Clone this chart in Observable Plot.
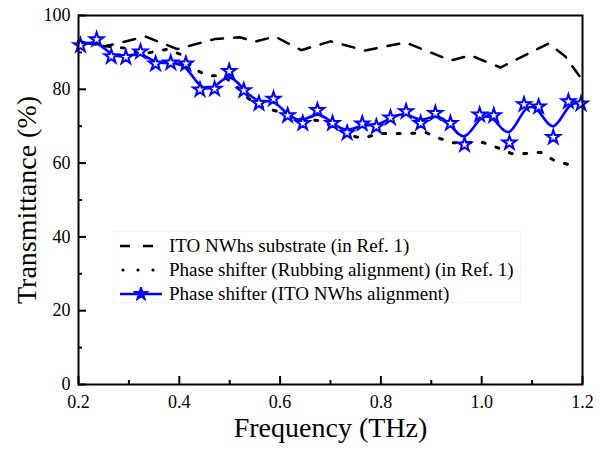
<!DOCTYPE html>
<html><head><meta charset="utf-8">
<script src="https://cdn.jsdelivr.net/npm/d3@7"></script>
<script src="https://cdn.jsdelivr.net/npm/@observablehq/plot@0.6"></script>
<style>
body{margin:0;background:#fff;}
#wrap{position:relative;width:606px;height:450px;font-family:"Liberation Serif","DejaVu Serif",serif;}
#wrap svg text{font-family:"Liberation Serif","DejaVu Serif",serif;}
#legend{position:absolute;left:113px;top:231px;width:408px;height:72px;border:1px solid #f2f2f2;box-sizing:border-box;}
.row{position:absolute;left:0;height:24px;display:flex;align-items:center;font-size:19px;color:#000;white-space:nowrap;font-family:"Liberation Serif","DejaVu Serif",serif;}
.row svg{margin-left:6px;margin-right:5px;}
</style></head><body><div id="wrap"><div id="legend"></div></div>
<script>
// Phase shifter (ITO NWhs alignment)
const freqITO = [0.204,0.236,0.265,0.294,0.323,0.353,0.383,0.413,0.441,0.470,0.499,0.528,0.558,0.587,0.615,0.645,0.674,0.704,0.733,0.763,0.791,0.819,0.850,0.879,0.908,0.938,0.966,0.996,1.024,1.055,1.084,1.113,1.142,1.172,1.197];
const transITO = [91.9,93.5,88.9,88.7,90.2,86.9,87.2,86.9,79.9,80.1,84.9,79.7,76.2,77.4,72.9,70.8,74.3,70.8,68.2,70.7,69.9,72.3,74.0,70.8,73.5,70.8,65.0,73.1,72.9,65.5,75.9,75.3,67.0,76.7,76.1];
// ITO NWhs substrate (in Ref. 1)
const freqSub = [0.200,0.252,0.333,0.396,0.470,0.520,0.550,0.590,0.642,0.700,0.769,0.849,0.938,0.978,1.037,1.133,1.166,1.200];
const transSub = [93.0,91.6,94.3,90.9,93.6,94.1,92.9,94.3,90.6,93.0,90.5,92.7,87.8,89.2,85.9,92.4,88.9,82.4];
// Phase shifter (Rubbing alignment) (in Ref. 1)
const freqRub = [0.200,0.262,0.295,0.323,0.375,0.404,0.428,0.456,0.486,0.512,0.537,0.567,0.595,0.621,0.650,0.680,0.710,0.738,0.765,0.795,0.823,0.853,0.889,0.916,0.944,0.972,1.002,1.031,1.059,1.087,1.117,1.144,1.172];
const transRub = [93.0,91.6,91.1,89.5,90.8,89.4,85.6,83.7,83.7,81.0,77.5,75.1,74.0,72.1,71.8,71.5,69.5,67.5,66.7,68.0,68.0,68.0,68.3,66.7,65.5,65.6,65.6,64.2,62.6,62.6,62.9,60.7,59.6];

const xMajor = [0.2,0.4,0.6,0.8,1.0,1.2];
const xMinor = [0.3,0.5,0.7,0.9,1.1];
const yMajor = [0,20,40,60,80,100];
const yMinor = [10,30,50,70,90];
const seriesNames = ["ITO NWhs substrate (in Ref. 1)","Phase shifter (Rubbing alignment) (in Ref. 1)","Phase shifter (ITO NWhs alignment)"];
const xLabel = "Frequency (THz)";
const yLabel = "Transmittance (%)";

const ito = freqITO.map((f,i)=>({f, t: transITO[i]}));
const sub = freqSub.map((f,i)=>({f, t: transSub[i]}));
const rub = freqRub.map((f,i)=>({f, t: transRub[i]}));

const W=606,H=450,mL=78,mR=24,mT=15,mB=66;
const innerW=W-mL-mR, innerH=H-mT-mB;
const BLUE="#0000ff";
const FONT="Liberation Serif, DejaVu Serif, serif";

const chart = Plot.plot({
  width:W,height:H,marginLeft:mL,marginRight:mR,marginTop:mT,marginBottom:mB,
  style:{fontFamily:FONT,background:"transparent",color:"black"},
  x:{domain:[0.2,1.2]},
  y:{domain:[0,100]},
  marks:[
    Plot.line(sub,{x:"f",y:"t",stroke:"black",strokeWidth:2.5,strokeDasharray:"12,11"}),
    Plot.line(rub,{x:"f",y:"t",stroke:"black",strokeWidth:3,strokeDasharray:"3,11.5"}),
    Plot.line(ito,{x:"f",y:"t",stroke:BLUE,strokeWidth:2.6,curve:"basis"}),
    Plot.dot(ito,{x:"f",y:"t",symbol:"star",r:4.3,stroke:BLUE,strokeWidth:2,fill:"white"}),
    Plot.tickX(xMajor,{x:d=>d,insetTop:innerH-8,stroke:"black",strokeWidth:2}),
    Plot.tickX(xMinor,{x:d=>d,insetTop:innerH-4,stroke:"black",strokeWidth:2}),
    Plot.tickY(yMajor,{y:d=>d,insetRight:innerW-8,stroke:"black",strokeWidth:2}),
    Plot.tickY(yMinor,{y:d=>d,insetRight:innerW-4,stroke:"black",strokeWidth:2}),
    Plot.frame({stroke:"black",strokeWidth:2}),
    Plot.axisX(xMajor,{tickSize:0,tickPadding:11,tickFormat:d3.format(".1f"),fontSize:18,label:null,fontFamily:FONT}),
    Plot.axisY(yMajor,{tickSize:0,tickPadding:8,fontSize:18,label:null,fontFamily:FONT}),
    Plot.text([xLabel],{frameAnchor:"bottom",lineAnchor:"middle",textAnchor:"middle",dy:44,fontSize:28,fill:"black",fontFamily:FONT}),
    Plot.text([yLabel],{frameAnchor:"left",lineAnchor:"middle",textAnchor:"middle",dx:-51,rotate:-90,fontSize:28,fill:"black",fontFamily:FONT})
  ]
});
const wrap=document.getElementById("wrap");
wrap.insertBefore(chart, wrap.firstChild);

// legend
const leg=document.getElementById("legend");
const starPath=d3.symbol(d3.symbolStar, 70)();
const samples=[
  `<svg width="44" height="14"><line x1="0" y1="7" x2="36" y2="7" stroke="black" stroke-width="2.5" stroke-dasharray="10,13"/></svg>`,
  `<svg width="44" height="14"><circle cx="3" cy="7" r="1.6" fill="black"/><circle cx="18" cy="7" r="1.6" fill="black"/><circle cx="33" cy="7" r="1.6" fill="black"/></svg>`,
  `<svg width="44" height="14"><line x1="0" y1="7" x2="42" y2="7" stroke="${BLUE}" stroke-width="2.5"/><path d="${starPath}" transform="translate(21,7)" fill="${BLUE}" stroke="${BLUE}" stroke-width="1"/></svg>`
];
const rowTops=[2,26,50];
seriesNames.forEach((n,i)=>{
  const r=document.createElement("div");
  r.className="row";
  r.style.top=rowTops[i]+"px";
  r.innerHTML=samples[i]+`<span>${n}</span>`;
  leg.appendChild(r);
});
</script>
</body></html>
